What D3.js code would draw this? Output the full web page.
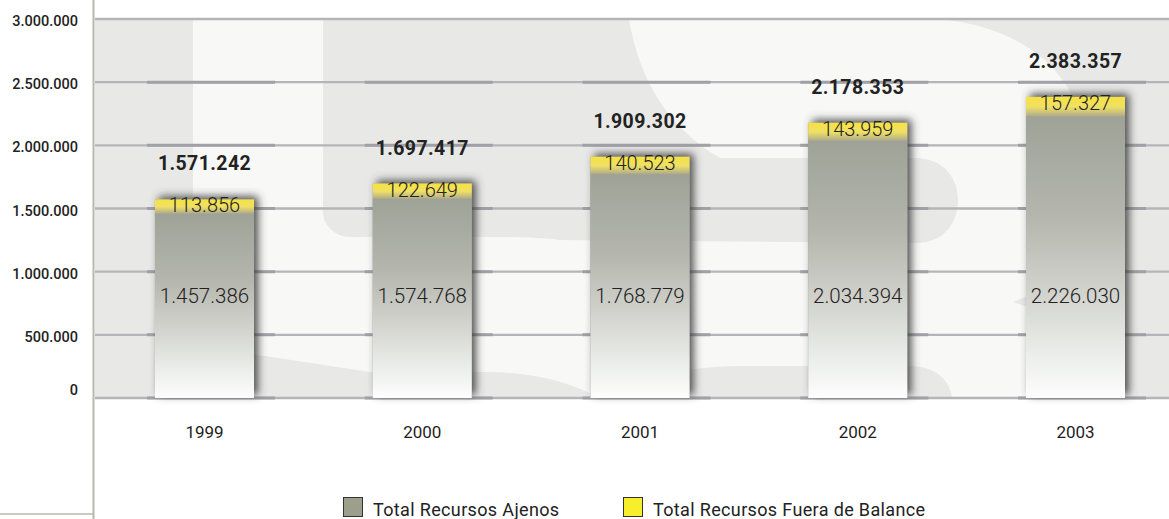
<!DOCTYPE html>
<html><head><meta charset="utf-8">
<script src="https://cdn.jsdelivr.net/npm/d3@7"></script>
<style>
html,body{margin:0;padding:0;background:#fff;overflow:hidden}
svg{display:block;font-family:Roboto,"Open Sans",sans-serif}
</style>
</head><body><svg id="c" width="1169" height="519"></svg>
<script>
// ---- data ----
const years = ["1999", "2000", "2001", "2002", "2003"];
const recursosAjenos = [1457386, 1574768, 1768779, 2034394, 2226030];
const fueraBalance = [113856, 122649, 140523, 143959, 157327];
const totals = [1571242, 1697417, 1909302, 2178353, 2383357];
const yTicks = [0, 500000, 1000000, 1500000, 2000000, 2500000, 3000000];
const seriesKeys = ["ajenos", "fuera"];
const seriesNames = ["Total Recursos Ajenos", "Total Recursos Fuera de Balance"];

const fmt = v => d3.format(",")(v).replace(/,/g, ".");

const W = 1169, H = 519;
const plot = {left: 95, right: 1169, top: 19, bottom: 398};

const svg = d3.select("#c");
const defs = svg.append("defs");

// gradients
const gGray = defs.append("linearGradient").attr("id", "gGray").attr("x1", 0).attr("y1", 0).attr("x2", 0).attr("y2", 1);
[[0, "#9fa297"], [0.35, "#b4b6ad"], [0.6, "#cfd0ca"], [0.85, "#eceeeb"], [1, "#fdfdfd"]]
  .forEach(([o, c]) => gGray.append("stop").attr("offset", o).attr("stop-color", c));
const gYel = defs.append("linearGradient").attr("id", "gYel").attr("x1", 0).attr("y1", 0).attr("x2", 0).attr("y2", 1);
[[0, "#f7e23e"], [0.5, "#efe066"], [0.8, "#c9c07a"], [1, "#a8a690"]]
  .forEach(([o, c]) => gYel.append("stop").attr("offset", o).attr("stop-color", c));

const f = defs.append("filter").attr("id", "shadow").attr("x", "-30%").attr("y", "-30%").attr("width", "160%").attr("height", "160%");
f.append("feDropShadow").attr("dx", 4).attr("dy", -3).attr("stdDeviation", 4.5)
  .attr("flood-color", "#3a3a3a").attr("flood-opacity", 0.9);

const clip = defs.append("clipPath").attr("id", "plotClip");
clip.append("rect").attr("x", plot.left).attr("y", plot.top).attr("width", plot.right - plot.left).attr("height", plot.bottom - plot.top);

// scales
const x = d3.scaleBand().domain(years).range([95, 1185]).paddingInner(0.5453).paddingOuter(0.2755);
const y = d3.scaleLinear().domain([0, 3000000]).range([plot.bottom, plot.top]);
const bw = x.bandwidth();

// ---- background & watermark ----
const bg = svg.append("g").attr("clip-path", "url(#plotClip)");
bg.append("rect").attr("x", plot.left).attr("y", plot.top).attr("width", plot.right - plot.left)
  .attr("height", plot.bottom - plot.top).attr("fill", "#f8f8f7");
const wm = "#e8e9e6";
const shapes = [
  "M95,19 L193,19 L193,398 L95,398 Z",
  "M323,19 L629,19 C636,60 655,120 720,158 L915,158 C945,158 958,180 958,200 C958,222 945,243 915,243 L560,240 C545,238 520,237 500,237 L350,237 C335,237 323,225 323,212 Z",
  "M193,290 C195,330 225,352 265,356 L370,372 L483,372 C530,372 565,380 600,398 L193,398 Z",
  "M600,398 C640,380 680,366 740,366 L910,366 C935,366 950,380 952,398 Z",
  "M933,19 C1000,22 1060,55 1078,110 L1085,200 C1080,250 1060,285 1013,302 C1055,315 1080,340 1085,370 L1085,398 L1169,398 L1169,19 Z"
];
bg.selectAll("path.wm").data(shapes).join("path").attr("class", "wm").attr("d", d => d).attr("fill", wm);

// ---- gridlines ----
const grid = svg.append("g");
grid.selectAll("line.grid").data(yTicks).join("line").attr("class", "grid")
  .attr("x1", plot.left).attr("x2", plot.right)
  .attr("y1", d => y(d)).attr("y2", d => y(d))
  .attr("stroke", "#b4b5b9").attr("stroke-width", 2.4);
// darker stubs near the bars
years.forEach(yr => {
  grid.selectAll(null).data(yTicks.filter(t => t < 3000000)).join("line")
    .attr("x1", x(yr) - 8).attr("x2", x(yr) + bw + 21)
    .attr("y1", d => y(d)).attr("y2", d => y(d))
    .attr("stroke", "#a0a1a6").attr("stroke-width", 3);
});

// ---- bars ----
const rows = years.map((yr, i) => ({year: yr, ajenos: recursosAjenos[i], fuera: fueraBalance[i], total: totals[i]}));
const stacked = d3.stack().keys(seriesKeys)(rows);

const barsG = svg.append("g");
// shadow silhouettes
barsG.selectAll("rect.sh").data(rows).join("rect").attr("class", "sh")
  .attr("x", d => x(d.year)).attr("width", bw)
  .attr("y", d => y(d.ajenos + d.fuera)).attr("height", d => y(0) - y(d.ajenos + d.fuera))
  .attr("fill", "#999").attr("filter", "url(#shadow)");

const fills = {ajenos: "url(#gGray)", fuera: "url(#gYel)"};
stacked.forEach(s => {
  barsG.selectAll(null).data(s).join("rect")
    .attr("x", d => x(d.data.year)).attr("width", bw)
    .attr("y", d => y(d[1])).attr("height", d => y(d[0]) - y(d[1]))
    .attr("fill", fills[s.key]);
});

// ---- labels ----
const lab = svg.append("g").attr("text-anchor", "middle").attr("fill", "#222");
lab.selectAll("text.tot").data(rows).join("text").attr("class", "tot")
  .attr("x", d => x(d.year) + bw / 2).attr("y", d => y(d.total) - 29)
  .attr("font-size", 19.5).attr("font-weight", 700).attr("letter-spacing", 0.4)
  .text(d => fmt(d.total));
lab.selectAll("text.fue").data(rows).join("text").attr("class", "fue")
  .attr("x", d => x(d.year) + bw / 2).attr("y", d => y(d.ajenos + d.fuera) + 13)
  .attr("font-size", 20).attr("font-weight", 300).attr("fill", "#222")
  .text(d => fmt(d.fuera));
lab.selectAll("text.aje").data(rows).join("text").attr("class", "aje")
  .attr("x", d => x(d.year) + bw / 2).attr("y", y(0) - 95)
  .attr("font-size", 20.5).attr("font-weight", 300).attr("fill", "#222")
  .text(d => fmt(d.ajenos));

// ---- axes ----
const yAxis = svg.append("g").attr("text-anchor", "end").attr("fill", "#222");
yAxis.selectAll("text").data(yTicks).join("text")
  .attr("x", 78).attr("y", d => y(d) + (d === 0 ? -3 : 7))
  .attr("font-size", 14.5).attr("font-weight", 500)
  .text(d => fmt(d));

const xAxis = svg.append("g").attr("text-anchor", "middle").attr("fill", "#1e1e1e");
xAxis.selectAll("text").data(years).join("text")
  .attr("x", d => x(d) + bw / 2).attr("y", 438)
  .attr("font-size", 17).attr("font-weight", 400)
  .text(d => d);

// frame lines
svg.append("line").attr("x1", 93.5).attr("x2", 93.5).attr("y1", 0).attr("y2", H)
  .attr("stroke", "#b7b8ad").attr("stroke-width", 2);
svg.append("line").attr("x1", 0).attr("x2", 93).attr("y1", 514).attr("y2", 514)
  .attr("stroke", "#b7b8ad").attr("stroke-width", 1.5);

// ---- legend ----
const legColors = ["#9d9f8c", "#f7ee2c"];
const legX = [343, 623];
const leg = svg.append("g");
seriesNames.forEach((n, i) => {
  leg.append("rect").attr("x", legX[i] + 0.5).attr("y", 497.5).attr("width", 19).attr("height", 19)
    .attr("fill", legColors[i]).attr("stroke", "#333").attr("stroke-width", 1);
  leg.append("text").attr("x", legX[i] + 30).attr("y", 516).attr("font-size", 18)
    .attr("letter-spacing", 0.35).attr("fill", "#222").text(n);
});
</script>
</body></html>
